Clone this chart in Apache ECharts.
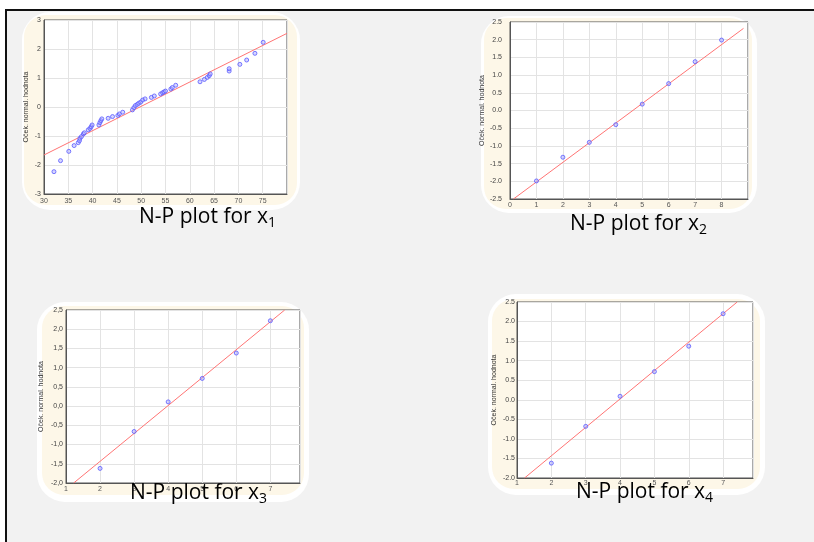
<!DOCTYPE html>
<html lang="en">
<head>
    <meta charset="UTF-8">
    <title>N-P plots</title>
    <style>
      * { padding: 0; margin: 0; }
      body { background: #fff; }
    </style>
</head>
<body>
    <div id="main" style="width: 814px;height:542px;"></div>
    <script src="https://cdn.jsdelivr.net/npm/echarts@6/dist/echarts.min.js"></script>
    <script>
        // x1: observed value / expected normal value
        var x1Values = [32.05, 33.4, 35.1, 36.2, 37.05, 37.3, 37.4, 37.7, 38.1, 38.3,
                        39.1, 39.45, 39.7, 39.9, 41.3, 41.5, 41.7, 41.9, 43.2, 44.1,
                        45.2, 45.5, 46.2, 48.2, 48.5, 48.8, 49.2, 49.5, 49.9, 50.3,
                        50.8, 52.1, 52.7, 54.0, 54.4, 54.7, 55.0, 56.1, 56.4, 57.1,
                        62.1, 63.0, 63.6, 64.0, 64.2, 68.1, 68.1, 70.3, 71.7, 73.4, 75.1];
        var x1Expected = [-2.23, -1.85, -1.53, -1.33, -1.23, -1.16, -1.08, -1.02, -0.93, -0.89,
                          -0.79, -0.74, -0.68, -0.62, -0.62, -0.54, -0.47, -0.41, -0.39, -0.33,
                          -0.29, -0.24, -0.18, -0.10, -0.02, 0.05, 0.09, 0.13, 0.17, 0.24,
                          0.28, 0.33, 0.38, 0.45, 0.49, 0.52, 0.55, 0.62, 0.67, 0.75,
                          0.87, 0.95, 1.02, 1.08, 1.14, 1.24, 1.32, 1.47, 1.62, 1.85, 2.23];
        var x1Line = [[30, -1.655], [80, 2.54]];

        var x2Values = [1, 2, 3, 4, 5, 6, 7, 8];
        var x2Expected = [-1.99, -1.32, -0.90, -0.40, 0.18, 0.76, 1.38, 1.99];
        var x2Line = [[0.13, -2.5], [8.83, 2.32]];

        var x3Values = [2, 3, 4, 5, 6, 7];
        var x3Expected = [-1.62, -0.66, 0.11, 0.72, 1.38, 2.22];
        var x3Line = [[1.225, -2.0], [7.42, 2.5]];

        var x4Values = [2, 3, 4, 5, 6, 7];
        var x4Expected = [-1.62, -0.68, 0.09, 0.72, 1.37, 2.20];
        var x4Line = [[1.22, -2.0], [7.41, 2.5]];

        var yName = 'Oček. normal. hodnota';
        var plotTitles = ['1', '2', '3', '4'];

        function pairs(xs, ys) {
            return xs.map(function (v, i) { return [v, ys[i]]; });
        }

        // panels: plot box and axis settings
        var panels = [
            { grid: {left: 44, top: 20, width: 243, height: 174}, x: [30, 80, 5], y: [-3, 3, 1],
              dec: 0, sep: '.', xm: 4, ym: 3, gap: 14, pts: pairs(x1Values, x1Expected), line: x1Line },
            { grid: {left: 510, top: 22, width: 238, height: 177}, x: [0, 9, 1], y: [-2.5, 2.5, 0.5],
              dec: 1, sep: '.', xm: 3, ym: 8, gap: 19, pts: pairs(x2Values, x2Expected), line: x2Line },
            { grid: {left: 66, top: 310, width: 234, height: 173}, x: [1, 7.87, 1], y: [-2, 2.5, 0.5],
              dec: 1, sep: ',', xm: 3, ym: 3, gap: 21, pts: pairs(x3Values, x3Expected), line: x3Line },
            { grid: {left: 517, top: 302, width: 236, height: 176}, x: [1, 7.87, 1], y: [-2, 2.5, 0.5],
              dec: 1, sep: '.', xm: 2, ym: 2, gap: 19, pts: pairs(x4Values, x4Expected), line: x4Line }
        ];

        var grids = [], xAxes = [], yAxes = [], series = [];
        panels.forEach(function (p, i) {
            grids.push(Object.assign({show: true, backgroundColor: '#fff', borderColor: '#555', borderWidth: 1}, p.grid));
            xAxes.push({
                type: 'value', gridIndex: i, min: p.x[0], max: p.x[1], interval: p.x[2],
                axisLine: {onZero: false, lineStyle: {color: '#555'}},
                axisTick: {show: false},
                axisLabel: {fontSize: 7, color: '#555', margin: p.xm, showMaxLabel: false, fontFamily: 'Liberation Sans'},
                splitLine: {lineStyle: {color: '#e3e3e3'}}
            });
            yAxes.push({
                type: 'value', gridIndex: i, min: p.y[0], max: p.y[1], interval: p.y[2],
                name: yName, nameLocation: 'middle', nameGap: p.gap,
                nameTextStyle: {fontSize: 7, color: '#333', fontFamily: 'Liberation Sans'},
                axisLine: {onZero: false, lineStyle: {color: '#555'}},
                axisTick: {show: false},
                axisLabel: {fontSize: 7, color: '#444', margin: p.ym, fontFamily: 'Liberation Sans',
                    formatter: (function (dec, sep) {
                        return function (v) { return v.toFixed(dec).replace('.', sep); };
                    })(p.dec, p.sep)},
                splitLine: {lineStyle: {color: '#e3e3e3'}}
            });
            series.push({
                type: 'line', xAxisIndex: i, yAxisIndex: i, data: p.line,
                symbol: 'none', lineStyle: {color: '#ff7474', width: 1}, z: 3, silent: true
            });
            series.push({
                type: 'scatter', xAxisIndex: i, yAxisIndex: i, data: p.pts,
                symbol: 'circle', symbolSize: 4,
                itemStyle: {color: 'rgba(170,170,255,0.6)', borderColor: '#5a5aff', borderWidth: 1},
                z: 4
            });
        });

        // frames behind the plots
        var frames = [
            {outer: [22, 12, 278, 198], inner: [24, 15, 273, 190], text: [139, 204]},
            {outer: [481, 16, 276, 197], inner: [484, 18, 268, 191], text: [570, 211]},
            {outer: [37, 302, 272, 200], inner: [42, 306, 262, 189], text: [130, 480]},
            {outer: [488, 294, 277, 201], inner: [492, 299, 268, 190], text: [576, 479]}
        ];
        var graphics = [
            {type: 'rect', z: -20, shape: {x: 6, y: 10, width: 808, height: 532}, style: {fill: '#f2f2f2'}},
            {type: 'line', z: -19, shape: {x1: 5, y1: 10, x2: 814, y2: 10}, style: {stroke: '#111', lineWidth: 2}},
            {type: 'line', z: -19, shape: {x1: 6, y1: 10, x2: 6, y2: 542}, style: {stroke: '#111', lineWidth: 2}}
        ];
        frames.forEach(function (f, i) {
            graphics.push({type: 'rect', z: -18, shape: {x: f.outer[0], y: f.outer[1], width: f.outer[2], height: f.outer[3], r: 28},
                style: {fill: '#fff'}});
            graphics.push({type: 'rect', z: -17, shape: {x: f.inner[0], y: f.inner[1], width: f.inner[2], height: f.inner[3], r: 22},
                style: {fill: '#fdf7e8'}});
            graphics.push({type: 'text', z: 100, x: f.text[0], y: f.text[1],
                style: {
                    text: '{a|N-P plot for x}{s|' + plotTitles[i] + '}',
                    rich: {
                        a: {fontSize: 21, fontFamily: 'Open Sans', fill: '#000', lineHeight: 26},
                        s: {fontSize: 14, fontFamily: 'Open Sans', fill: '#000', lineHeight: 12, verticalAlign: 'bottom'}
                    }
                }});
        });

        var option = {
            animation: false,
            grid: grids,
            xAxis: xAxes,
            yAxis: yAxes,
            series: series,
            graphic: graphics
        };

        var myChart = echarts.init(document.getElementById('main'));
        myChart.setOption(option);
    </script>
</body>
</html>
